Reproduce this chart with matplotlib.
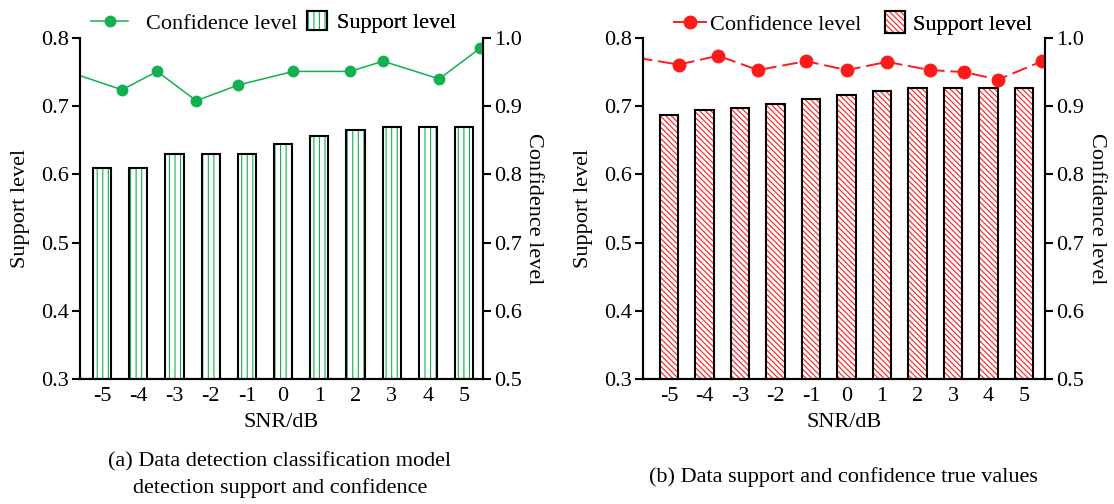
import matplotlib
matplotlib.use("Agg")
import matplotlib.pyplot as plt
from matplotlib.patches import Patch
from matplotlib.lines import Line2D
from matplotlib.legend_handler import HandlerTuple

plt.rcParams['font.family'] = ['Liberation Serif', 'DejaVu Serif']
plt.rcParams['font.size'] = 16
plt.rcParams['hatch.linewidth'] = 0.8

snr = [-5, -4, -3, -2, -1, 0, 1, 2, 3, 4, 5]
snr_labels = ['-5', '-4', '-3', '-2', '-1', '0', '1', '2', '3', '4', '5']

# panel (a)
support_a = [0.61, 0.61, 0.63, 0.63, 0.63, 0.644, 0.657, 0.665, 0.67, 0.67, 0.67]
conf_a_x = [-5.9, -4.45, -3.48, -2.40, -1.24, 0.28, 1.85, 2.76, 4.31, 5.44]
conf_a = [0.950, 0.924, 0.951, 0.908, 0.931, 0.951, 0.951, 0.966, 0.940, 0.985]

# panel (b)
support_b = [0.687, 0.694, 0.697, 0.703, 0.710, 0.717, 0.722, 0.727, 0.727, 0.727, 0.727]
conf_b_x = [-5.9, -4.72, -3.62, -2.49, -1.14, 0.01, 1.14, 2.35, 3.31, 4.27, 5.51]
conf_b = [0.971, 0.961, 0.974, 0.953, 0.966, 0.953, 0.965, 0.953, 0.950, 0.939, 0.966]

green = '#12b050'
red = '#ff1a1a'
FS = 16

fig = plt.figure(figsize=(11.14, 5.04), dpi=100)
ax_a = fig.add_axes([80/1114, 1-379/504, (483-80)/1114, (379-38)/504])
ax_b = fig.add_axes([643/1114, 1-379/504, (1045-643)/1114, (379-38)/504])


def style(ax, ax2, xlim, lp_left, lp_right):
    ax.set_xlim(*xlim)
    ax.set_ylim(0.3, 0.8)
    ax2.set_ylim(0.5, 1.0)
    ax.set_yticks([0.3, 0.4, 0.5, 0.6, 0.7, 0.8])
    ax.set_yticklabels(['0.3', '0.4', '0.5', '0.6', '0.7', '0.8'])
    ax2.set_yticks([0.5, 0.6, 0.7, 0.8, 0.9, 1.0])
    ax2.set_yticklabels(['0.5', '0.6', '0.7', '0.8', '0.9', '1.0'])
    ax.set_xticks(snr)
    ax.set_xticklabels(snr_labels)
    for a in (ax, ax2):
        a.spines['top'].set_visible(False)
        for s in a.spines.values():
            s.set_linewidth(1.5)
    ax.tick_params(axis='x', length=0, pad=6, labelsize=FS)
    ax.tick_params(axis='y', direction='out', length=6, width=1.5, labelsize=FS, pad=2)
    ax2.tick_params(axis='y', direction='out', length=6, width=1.5, labelsize=FS, pad=2)
    ax.set_xlabel('SNR/dB', fontsize=FS, labelpad=5)
    ax.set_ylabel('Support level', fontsize=FS, labelpad=lp_left)
    ax2.set_ylabel('Confidence level', fontsize=FS, rotation=270, labelpad=lp_right)


def add_legends(ax, line_handle, bar_handle, x_line, hl_line, pad_line, y_line,
                x_bar, hl_bar, hh_bar, pad_bar, y_bar):
    em = FS * 100 / 72.0
    leg1 = ax.legend([line_handle], ['Confidence level'], loc='center left',
                     bbox_to_anchor=(x_line/1114, 1-y_line/504), bbox_transform=fig.transFigure,
                     frameon=False, fontsize=FS, handlelength=hl_line/em,
                     handletextpad=pad_line/em, borderpad=0, borderaxespad=0)
    ax.add_artist(leg1)
    leg2 = ax.legend([bar_handle], ['Support level'], loc='center left',
                     bbox_to_anchor=(x_bar/1114, 1-y_bar/504), bbox_transform=fig.transFigure,
                     frameon=False, fontsize=FS, handlelength=hl_bar/em,
                     handleheight=hh_bar/em, handletextpad=pad_bar/em,
                     borderpad=0, borderaxespad=0,
                     handler_map={tuple: HandlerTuple(ndivide=1)})
    ax.add_artist(leg2)


# ---- panel (a)
ax_a2 = ax_a.twinx()
ax_a.bar(snr, support_a, width=0.5, color='white', edgecolor=green,
         hatch='|||', linewidth=0, zorder=2)
ax_a.bar(snr, support_a, width=0.5, fill=False, edgecolor='black', linewidth=1.5, zorder=3)
ax_a2.plot(conf_a_x, conf_a, '-o', color=green, lw=1.1, ms=7.5)
style(ax_a, ax_a2, (-5.61, 5.52), 8, 15)

h_line_a = Line2D([], [], color=green, marker='o', lw=1.1, ms=7.5)
h_bar_a = (Patch(facecolor='white', edgecolor=green, hatch='|||', linewidth=0),
           Patch(fill=False, edgecolor='black', linewidth=1.5))
add_legends(ax_a, h_line_a, h_bar_a, 91, 37, 18, 24, 307, 20, 20, 10, 22)

# ---- panel (b)
ax_b2 = ax_b.twinx()
ax_b.bar(snr, support_b, width=0.53, color='white', edgecolor=red,
         hatch='\\\\\\\\\\\\', linewidth=0, zorder=2)
ax_b.bar(snr, support_b, width=0.53, fill=False, edgecolor='black', linewidth=1.5, zorder=3)
ax_b2.plot(conf_b_x, conf_b, marker='o', color=red, lw=1.4, ms=9, linestyle=(0, (8, 3)))
style(ax_b, ax_b2, (-5.73, 5.59), 8, 16)

h_line_b = Line2D([], [], color=red, marker='o', lw=1.4, ms=9)
h_bar_b = (Patch(facecolor='white', edgecolor=red, hatch='\\\\\\\\\\\\', linewidth=0),
           Patch(fill=False, edgecolor='black', linewidth=1.5))
add_legends(ax_b, h_line_b, h_bar_b, 674, 32, 4, 25, 885, 20, 24, 8, 23)

fig.text(280/1114, 1-462/504, '(a) Data detection classification model',
         ha='center', va='center', fontsize=FS)
fig.text(280/1114, 1-488/504, 'detection support and confidence',
         ha='center', va='center', fontsize=FS)
fig.text(843/1114, 1-477/504, '(b) Data support and confidence true values',
         ha='center', va='center', fontsize=FS)

fig.savefig('out.png', dpi=100)
